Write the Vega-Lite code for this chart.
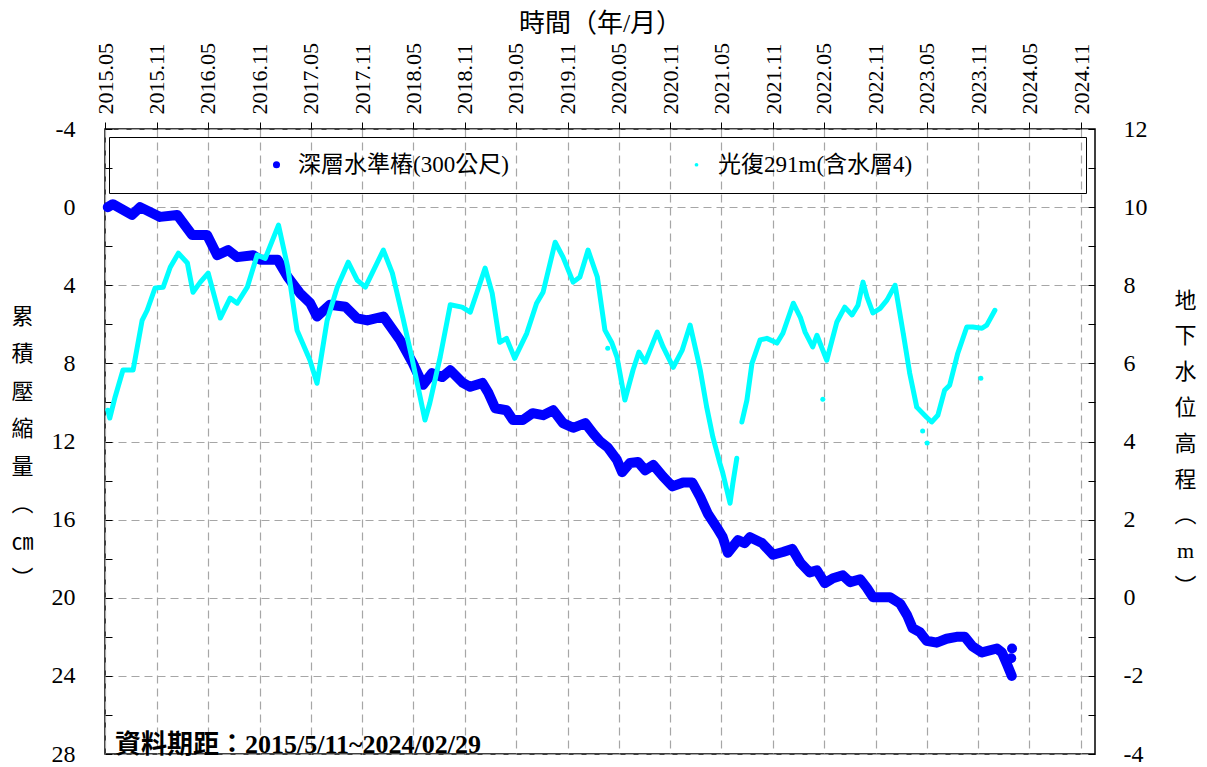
{
  "$schema": "https://vega.github.io/schema/vega-lite/v6.json",
  "width": 990,
  "height": 625,
  "autosize": {"type": "none"},
  "padding": {"left": 105, "top": 129, "right": 112, "bottom": 13},
  "background": "white",
  "title": {"text": "資料期距：2015/5/11~2024/02/29", "orient": "bottom", "anchor": "start", "frame": "group", "offset": -34, "dx": 10, "fontSize": 26, "fontWeight": "bold", "color": "#000000", "font": "'Liberation Serif', 'Noto Sans CJK TC'"},
  "config": {
    "font": "'Liberation Serif', 'Noto Sans CJK TC'",
    "view": {"stroke": "#000000", "strokeWidth": 1.5},
    "axis": {"labelFont": "'Liberation Serif', 'Noto Sans CJK TC'", "titleFont": "'Liberation Serif', 'Noto Sans CJK TC'", "labelColor": "#000000", "titleColor": "#000000", "titleFontWeight": "normal", "tickColor": "#000000", "domain": false, "gridColor": "#a6a6a6", "gridDash": [8, 5], "gridWidth": 1.2, "labelOverlap": false, "labelFlush": false}
  },
  "datasets": {
    "deep": [
      {"d":"2015-05-11","v":0.0,"s":1},{"d":"2015-05-29","v":-0.15,"s":1},{"d":"2015-08-05","v":0.4,"s":1},{"d":"2015-09-03","v":0.0,"s":1},{"d":"2015-11-13","v":0.5,"s":1},{"d":"2016-01-13","v":0.4,"s":1},{"d":"2016-03-06","v":1.43,"s":1},{"d":"2016-04-28","v":1.43,"s":1},{"d":"2016-06-03","v":2.46,"s":1},{"d":"2016-07-12","v":2.2,"s":1},{"d":"2016-08-13","v":2.56,"s":1},{"d":"2016-10-09","v":2.46,"s":1},{"d":"2016-11-04","v":2.7,"s":1},{"d":"2017-01-04","v":2.7,"s":1},{"d":"2017-02-09","v":3.58,"s":1},{"d":"2017-03-24","v":4.4,"s":1},{"d":"2017-04-29","v":4.9,"s":1},{"d":"2017-05-24","v":5.6,"s":1},{"d":"2017-07-09","v":5.0,"s":1},{"d":"2017-09-02","v":5.1,"s":1},{"d":"2017-10-14","v":5.7,"s":1},{"d":"2017-11-19","v":5.8,"s":1},{"d":"2018-01-15","v":5.6,"s":1},{"d":"2018-03-15","v":6.8,"s":1},{"d":"2018-04-30","v":8.0,"s":1},{"d":"2018-06-05","v":9.1,"s":1},{"d":"2018-07-07","v":8.5,"s":1},{"d":"2018-08-12","v":8.7,"s":1},{"d":"2018-09-10","v":8.35,"s":1},{"d":"2018-10-25","v":9.0,"s":1},{"d":"2018-11-20","v":9.2,"s":1},{"d":"2019-01-02","v":9.0,"s":1},{"d":"2019-01-23","v":9.5,"s":1},{"d":"2019-02-17","v":10.3,"s":1},{"d":"2019-03-29","v":10.4,"s":1},{"d":"2019-04-21","v":10.9,"s":1},{"d":"2019-05-26","v":10.9,"s":1},{"d":"2019-06-30","v":10.55,"s":1},{"d":"2019-08-06","v":10.65,"s":1},{"d":"2019-09-11","v":10.4,"s":1},{"d":"2019-10-16","v":11.06,"s":1},{"d":"2019-11-21","v":11.3,"s":1},{"d":"2020-01-03","v":11.06,"s":1},{"d":"2020-02-01","v":11.6,"s":1},{"d":"2020-02-25","v":12.0,"s":1},{"d":"2020-03-23","v":12.3,"s":1},{"d":"2020-04-25","v":12.95,"s":1},{"d":"2020-05-13","v":13.57,"s":1},{"d":"2020-06-10","v":13.1,"s":1},{"d":"2020-07-09","v":13.05,"s":1},{"d":"2020-08-03","v":13.47,"s":1},{"d":"2020-09-01","v":13.2,"s":1},{"d":"2020-10-06","v":13.8,"s":1},{"d":"2020-11-08","v":14.3,"s":1},{"d":"2020-12-16","v":14.1,"s":1},{"d":"2021-01-18","v":14.1,"s":1},{"d":"2021-02-15","v":14.85,"s":1},{"d":"2021-03-14","v":15.7,"s":1},{"d":"2021-04-15","v":16.4,"s":1},{"d":"2021-05-06","v":16.9,"s":1},{"d":"2021-05-24","v":17.7,"s":1},{"d":"2021-06-29","v":17.05,"s":1},{"d":"2021-07-23","v":17.2,"s":1},{"d":"2021-08-11","v":16.9,"s":1},{"d":"2021-09-23","v":17.2,"s":1},{"d":"2021-11-01","v":17.8,"s":1},{"d":"2021-12-06","v":17.66,"s":1},{"d":"2022-01-08","v":17.5,"s":1},{"d":"2022-02-06","v":18.2,"s":1},{"d":"2022-03-11","v":18.7,"s":1},{"d":"2022-04-06","v":18.6,"s":1},{"d":"2022-05-04","v":19.25,"s":1},{"d":"2022-06-02","v":19.0,"s":1},{"d":"2022-07-07","v":18.85,"s":1},{"d":"2022-08-02","v":19.2,"s":1},{"d":"2022-09-07","v":19.05,"s":1},{"d":"2022-10-01","v":19.5,"s":1},{"d":"2022-10-22","v":19.97,"s":1},{"d":"2022-12-22","v":19.97,"s":1},{"d":"2023-01-27","v":20.3,"s":1},{"d":"2023-02-21","v":20.9,"s":1},{"d":"2023-03-12","v":21.55,"s":1},{"d":"2023-04-07","v":21.76,"s":1},{"d":"2023-05-01","v":22.2,"s":1},{"d":"2023-06-06","v":22.3,"s":1},{"d":"2023-07-11","v":22.1,"s":1},{"d":"2023-08-16","v":22.0,"s":1},{"d":"2023-09-14","v":22.0,"s":1},{"d":"2023-10-12","v":22.5,"s":1},{"d":"2023-11-14","v":22.8,"s":1},{"d":"2024-01-06","v":22.6,"s":1},{"d":"2024-01-24","v":22.8,"s":1},{"d":"2024-02-11","v":23.4,"s":1},{"d":"2024-02-28","v":24.0,"s":1},
      {"d":"2024-02-29","v":22.6,"s":2},{"d":"2024-02-26","v":23.1,"s":3}
    ],
    "guangfu": [
      {"d":"2015-05-11","v":4.8,"s":1},{"d":"2015-05-18","v":4.6,"s":1},{"d":"2015-06-06","v":5.14,"s":1},{"d":"2015-07-04","v":5.83,"s":1},{"d":"2015-08-09","v":5.83,"s":1},{"d":"2015-09-10","v":7.1,"s":1},{"d":"2015-09-28","v":7.36,"s":1},{"d":"2015-10-26","v":7.93,"s":1},{"d":"2015-11-24","v":7.95,"s":1},{"d":"2015-12-19","v":8.46,"s":1},{"d":"2016-01-17","v":8.82,"s":1},{"d":"2016-02-18","v":8.57,"s":1},{"d":"2016-03-09","v":7.82,"s":1},{"d":"2016-04-04","v":8.08,"s":1},{"d":"2016-05-02","v":8.31,"s":1},{"d":"2016-06-14","v":7.16,"s":1},{"d":"2016-07-19","v":7.67,"s":1},{"d":"2016-08-13","v":7.54,"s":1},{"d":"2016-09-18","v":7.95,"s":1},{"d":"2016-10-23","v":8.77,"s":1},{"d":"2016-11-21","v":8.69,"s":1},{"d":"2017-01-07","v":9.54,"s":1},{"d":"2017-02-09","v":8.46,"s":1},{"d":"2017-03-14","v":6.85,"s":1},{"d":"2017-04-29","v":6.08,"s":1},{"d":"2017-05-24","v":5.49,"s":1},{"d":"2017-06-29","v":7.1,"s":1},{"d":"2017-08-04","v":7.95,"s":1},{"d":"2017-09-12","v":8.59,"s":1},{"d":"2017-10-14","v":8.13,"s":1},{"d":"2017-11-12","v":7.95,"s":1},{"d":"2018-01-15","v":8.9,"s":1},{"d":"2018-02-16","v":8.31,"s":1},{"d":"2018-03-25","v":7.18,"s":1},{"d":"2018-04-26","v":6.16,"s":1},{"d":"2018-06-12","v":4.55,"s":1},{"d":"2018-06-29","v":4.98,"s":1},{"d":"2018-08-05","v":6.16,"s":1},{"d":"2018-09-10","v":7.5,"s":1},{"d":"2018-10-22","v":7.44,"s":1},{"d":"2018-11-20","v":7.31,"s":1},{"d":"2018-12-14","v":7.82,"s":1},{"d":"2019-01-12","v":8.44,"s":1},{"d":"2019-02-06","v":7.8,"s":1},{"d":"2019-03-05","v":6.54,"s":1},{"d":"2019-03-29","v":6.64,"s":1},{"d":"2019-04-27","v":6.13,"s":1},{"d":"2019-06-09","v":6.77,"s":1},{"d":"2019-07-14","v":7.54,"s":1},{"d":"2019-08-06","v":7.82,"s":1},{"d":"2019-09-18","v":9.1,"s":1},{"d":"2019-10-16","v":8.72,"s":1},{"d":"2019-11-21","v":8.08,"s":1},{"d":"2019-12-15","v":8.21,"s":1},{"d":"2020-01-13","v":8.9,"s":1},{"d":"2020-02-15","v":8.21,"s":1},{"d":"2020-03-13","v":6.85,"s":1},{"d":"2020-04-07","v":6.52,"s":1},{"d":"2020-04-25","v":6.16,"s":1},{"d":"2020-05-23","v":5.06,"s":1},{"d":"2020-06-21","v":5.83,"s":1},{"d":"2020-07-12","v":6.29,"s":1},{"d":"2020-08-03","v":6.03,"s":1},{"d":"2020-09-15","v":6.8,"s":1},{"d":"2020-10-06","v":6.42,"s":1},{"d":"2020-11-11","v":5.9,"s":1},{"d":"2020-12-13","v":6.34,"s":1},{"d":"2021-01-10","v":6.98,"s":1},{"d":"2021-02-05","v":6.16,"s":1},{"d":"2021-02-15","v":5.83,"s":1},{"d":"2021-03-10","v":4.88,"s":1},{"d":"2021-04-01","v":4.11,"s":1},{"d":"2021-04-26","v":3.44,"s":1},{"d":"2021-05-06","v":3.2,"s":1},{"d":"2021-06-01","v":2.42,"s":1},{"d":"2021-06-11","v":2.93,"s":1},{"d":"2021-06-25","v":3.57,"s":1},
      {"d":"2021-07-13","v":4.5,"s":2},{"d":"2021-07-31","v":5.06,"s":2},{"d":"2021-08-18","v":6.0,"s":2},{"d":"2021-09-16","v":6.6,"s":2},{"d":"2021-10-10","v":6.64,"s":2},{"d":"2021-11-15","v":6.52,"s":2},{"d":"2021-12-06","v":6.77,"s":2},{"d":"2022-01-12","v":7.54,"s":2},{"d":"2022-02-06","v":7.18,"s":2},{"d":"2022-02-23","v":6.8,"s":2},{"d":"2022-03-22","v":6.42,"s":2},{"d":"2022-04-06","v":6.72,"s":2},{"d":"2022-05-11","v":6.08,"s":2},{"d":"2022-06-16","v":7.06,"s":2},{"d":"2022-07-14","v":7.44,"s":2},{"d":"2022-08-09","v":7.24,"s":2},{"d":"2022-08-30","v":7.49,"s":2},{"d":"2022-09-17","v":8.08,"s":2},{"d":"2022-10-01","v":7.7,"s":2},{"d":"2022-10-22","v":7.29,"s":2},{"d":"2022-11-17","v":7.41,"s":2},{"d":"2022-12-11","v":7.62,"s":2},{"d":"2023-01-09","v":8.0,"s":2},{"d":"2023-02-07","v":6.77,"s":2},{"d":"2023-03-02","v":5.75,"s":2},{"d":"2023-03-27","v":4.88,"s":2},{"d":"2023-05-01","v":4.62,"s":2},{"d":"2023-05-19","v":4.5,"s":2},{"d":"2023-06-10","v":4.67,"s":2},{"d":"2023-07-04","v":5.31,"s":2},{"d":"2023-07-22","v":5.44,"s":2},{"d":"2023-08-20","v":6.26,"s":2},{"d":"2023-09-21","v":6.93,"s":2},{"d":"2023-10-12","v":6.93,"s":2},{"d":"2023-11-14","v":6.9,"s":2},{"d":"2023-12-01","v":6.98,"s":2},{"d":"2023-12-30","v":7.36,"s":2},
      {"d":"2020-03-23","v":6.39,"s":3},{"d":"2022-04-27","v":5.08,"s":4},{"d":"2023-04-17","v":4.27,"s":5},{"d":"2023-05-03","v":3.96,"s":6},{"d":"2023-11-10","v":5.62,"s":7}
    ]
  },
  "layer": [
    {
      "data": {"name": "deep"},
      "encoding": {
        "x": {"field": "d", "type": "temporal",
          "scale": {"type": "utc", "domain": [{"year": 2015, "month": 5, "date": 1, "utc": true}, {"year": 2024, "month": 12, "date": 20, "utc": true}]},
          "axis": {"orient": "top", "labelExpr": "utcFormat(datum.value, '%Y.%m')",
            "values": [{"year":2015,"month":5,"date":1,"utc":true},{"year":2015,"month":11,"date":1,"utc":true},{"year":2016,"month":5,"date":1,"utc":true},{"year":2016,"month":11,"date":1,"utc":true},{"year":2017,"month":5,"date":1,"utc":true},{"year":2017,"month":11,"date":1,"utc":true},{"year":2018,"month":5,"date":1,"utc":true},{"year":2018,"month":11,"date":1,"utc":true},{"year":2019,"month":5,"date":1,"utc":true},{"year":2019,"month":11,"date":1,"utc":true},{"year":2020,"month":5,"date":1,"utc":true},{"year":2020,"month":11,"date":1,"utc":true},{"year":2021,"month":5,"date":1,"utc":true},{"year":2021,"month":11,"date":1,"utc":true},{"year":2022,"month":5,"date":1,"utc":true},{"year":2022,"month":11,"date":1,"utc":true},{"year":2023,"month":5,"date":1,"utc":true},{"year":2023,"month":11,"date":1,"utc":true},{"year":2024,"month":5,"date":1,"utc":true},{"year":2024,"month":11,"date":1,"utc":true}],
            "labelAngle": -90, "labelFontSize": 22, "labelPadding": 8, "tickSize": 7, "grid": true,
            "title": "時間（年/月）", "titleFontSize": 26, "titlePadding": 6}},
        "y": {"field": "v", "type": "quantitative",
          "scale": {"domain": [-4, 28], "reverse": true, "nice": false, "zero": false},
          "axis": {"orient": "left", "values": [-4,-2,0,2,4,6,8,10,12,14,16,18,20,22,24,26,28],
            "labelExpr": "datum.value % 4 === 0 ? '' + datum.value : ''", "labelFontSize": 24, "labelPadding": 37, "tickSize": -7,
            "grid": true, "gridOpacity": {"condition": {"test": "datum.value % 4 !== 0", "value": 0}, "value": 1},
            "title": ["累","積","壓","縮","量","︵","㎝","︶"], "titleAngle": 0, "titleFontSize": 22, "titleLineHeight": 37.5,
            "titleAlign": "center", "titleBaseline": "middle", "titleX": -83, "titleY": 187}}
      },
      "layer": [
        {"mark": {"type": "line", "color": "#0000ff", "strokeWidth": 10, "strokeCap": "round", "strokeJoin": "round"},
         "encoding": {"detail": {"field": "s", "type": "nominal"}}},
        {"mark": {"type": "point", "filled": true, "opacity": 1},
         "encoding": {
           "color": {"datum": "深層水準樁(300公尺)", "type": "nominal",
             "scale": {"domain": ["深層水準樁(300公尺)", "光復291m(含水層4)"], "range": ["#0000ff", "#00ffff"]},
             "legend": {"orient": "none", "legendX": 4, "legendY": 8, "direction": "horizontal", "columns": 2, "title": "\u00a0", "titleOrient": "right", "titlePadding": 158, "titleFontSize": 22, "symbolOffset": 140, "labelOffset": 10, "columnPadding": 36, "padding": 16, "strokeColor": "#000000", "labelFontSize": 23, "labelLimit": 500, "labelColor": "#000000", "labelFont": "'Liberation Serif', 'Noto Sans CJK TC'", "symbolType": "circle", "symbolStrokeWidth": 0}},
           "size": {"datum": "深層水準樁(300公尺)", "type": "nominal",
             "scale": {"domain": ["深層水準樁(300公尺)", "光復291m(含水層4)"], "range": [50, 14], "padding": 0},
             "legend": {"orient": "none", "legendX": 4, "legendY": 8, "direction": "horizontal", "columns": 2, "title": "\u00a0", "titleOrient": "right", "titlePadding": 158, "titleFontSize": 22, "symbolOffset": 140, "labelOffset": 10, "columnPadding": 36, "padding": 16, "strokeColor": "#000000", "labelFontSize": 23, "labelLimit": 500, "labelColor": "#000000", "labelFont": "'Liberation Serif', 'Noto Sans CJK TC'", "symbolType": "circle", "symbolStrokeWidth": 0}}
         }}
      ]
    },
    {
      "data": {"name": "guangfu"},
      "encoding": {
        "x": {"field": "d", "type": "temporal",
          "scale": {"type": "utc", "domain": [{"year": 2015, "month": 5, "date": 1, "utc": true}, {"year": 2024, "month": 12, "date": 20, "utc": true}]}},
        "y": {"field": "v", "type": "quantitative",
          "scale": {"domain": [-4, 12], "nice": false, "zero": false},
          "axis": {"orient": "right", "values": [-4,-3,-2,-1,0,1,2,3,4,5,6,7,8,9,10,11,12],
            "labelExpr": "datum.value % 2 === 0 ? '' + datum.value : ''", "labelFontSize": 24, "labelPadding": 35, "tickSize": -7,
            "grid": false,
            "title": ["地","下","水","位","高","程","︵","m","︶"], "titleAngle": 0, "titleFontSize": 22, "titleLineHeight": 35.8,
            "titleAlign": "center", "titleBaseline": "middle", "titleX": 90, "titleY": 171}}
      },
      "layer": [
        {"mark": {"type": "line", "color": "#00ffff", "strokeWidth": 5, "strokeCap": "round", "strokeJoin": "round"},
         "encoding": {"detail": {"field": "s", "type": "nominal"}}},
        {"mark": {"type": "point", "filled": true, "opacity": 1},
         "encoding": {
           "color": {"datum": "光復291m(含水層4)", "type": "nominal"},
           "size": {"datum": "光復291m(含水層4)", "type": "nominal"}
         }}
      ]
    }
  ],
  "resolve": {"scale": {"y": "independent"}, "axis": {"y": "independent"}}
}
